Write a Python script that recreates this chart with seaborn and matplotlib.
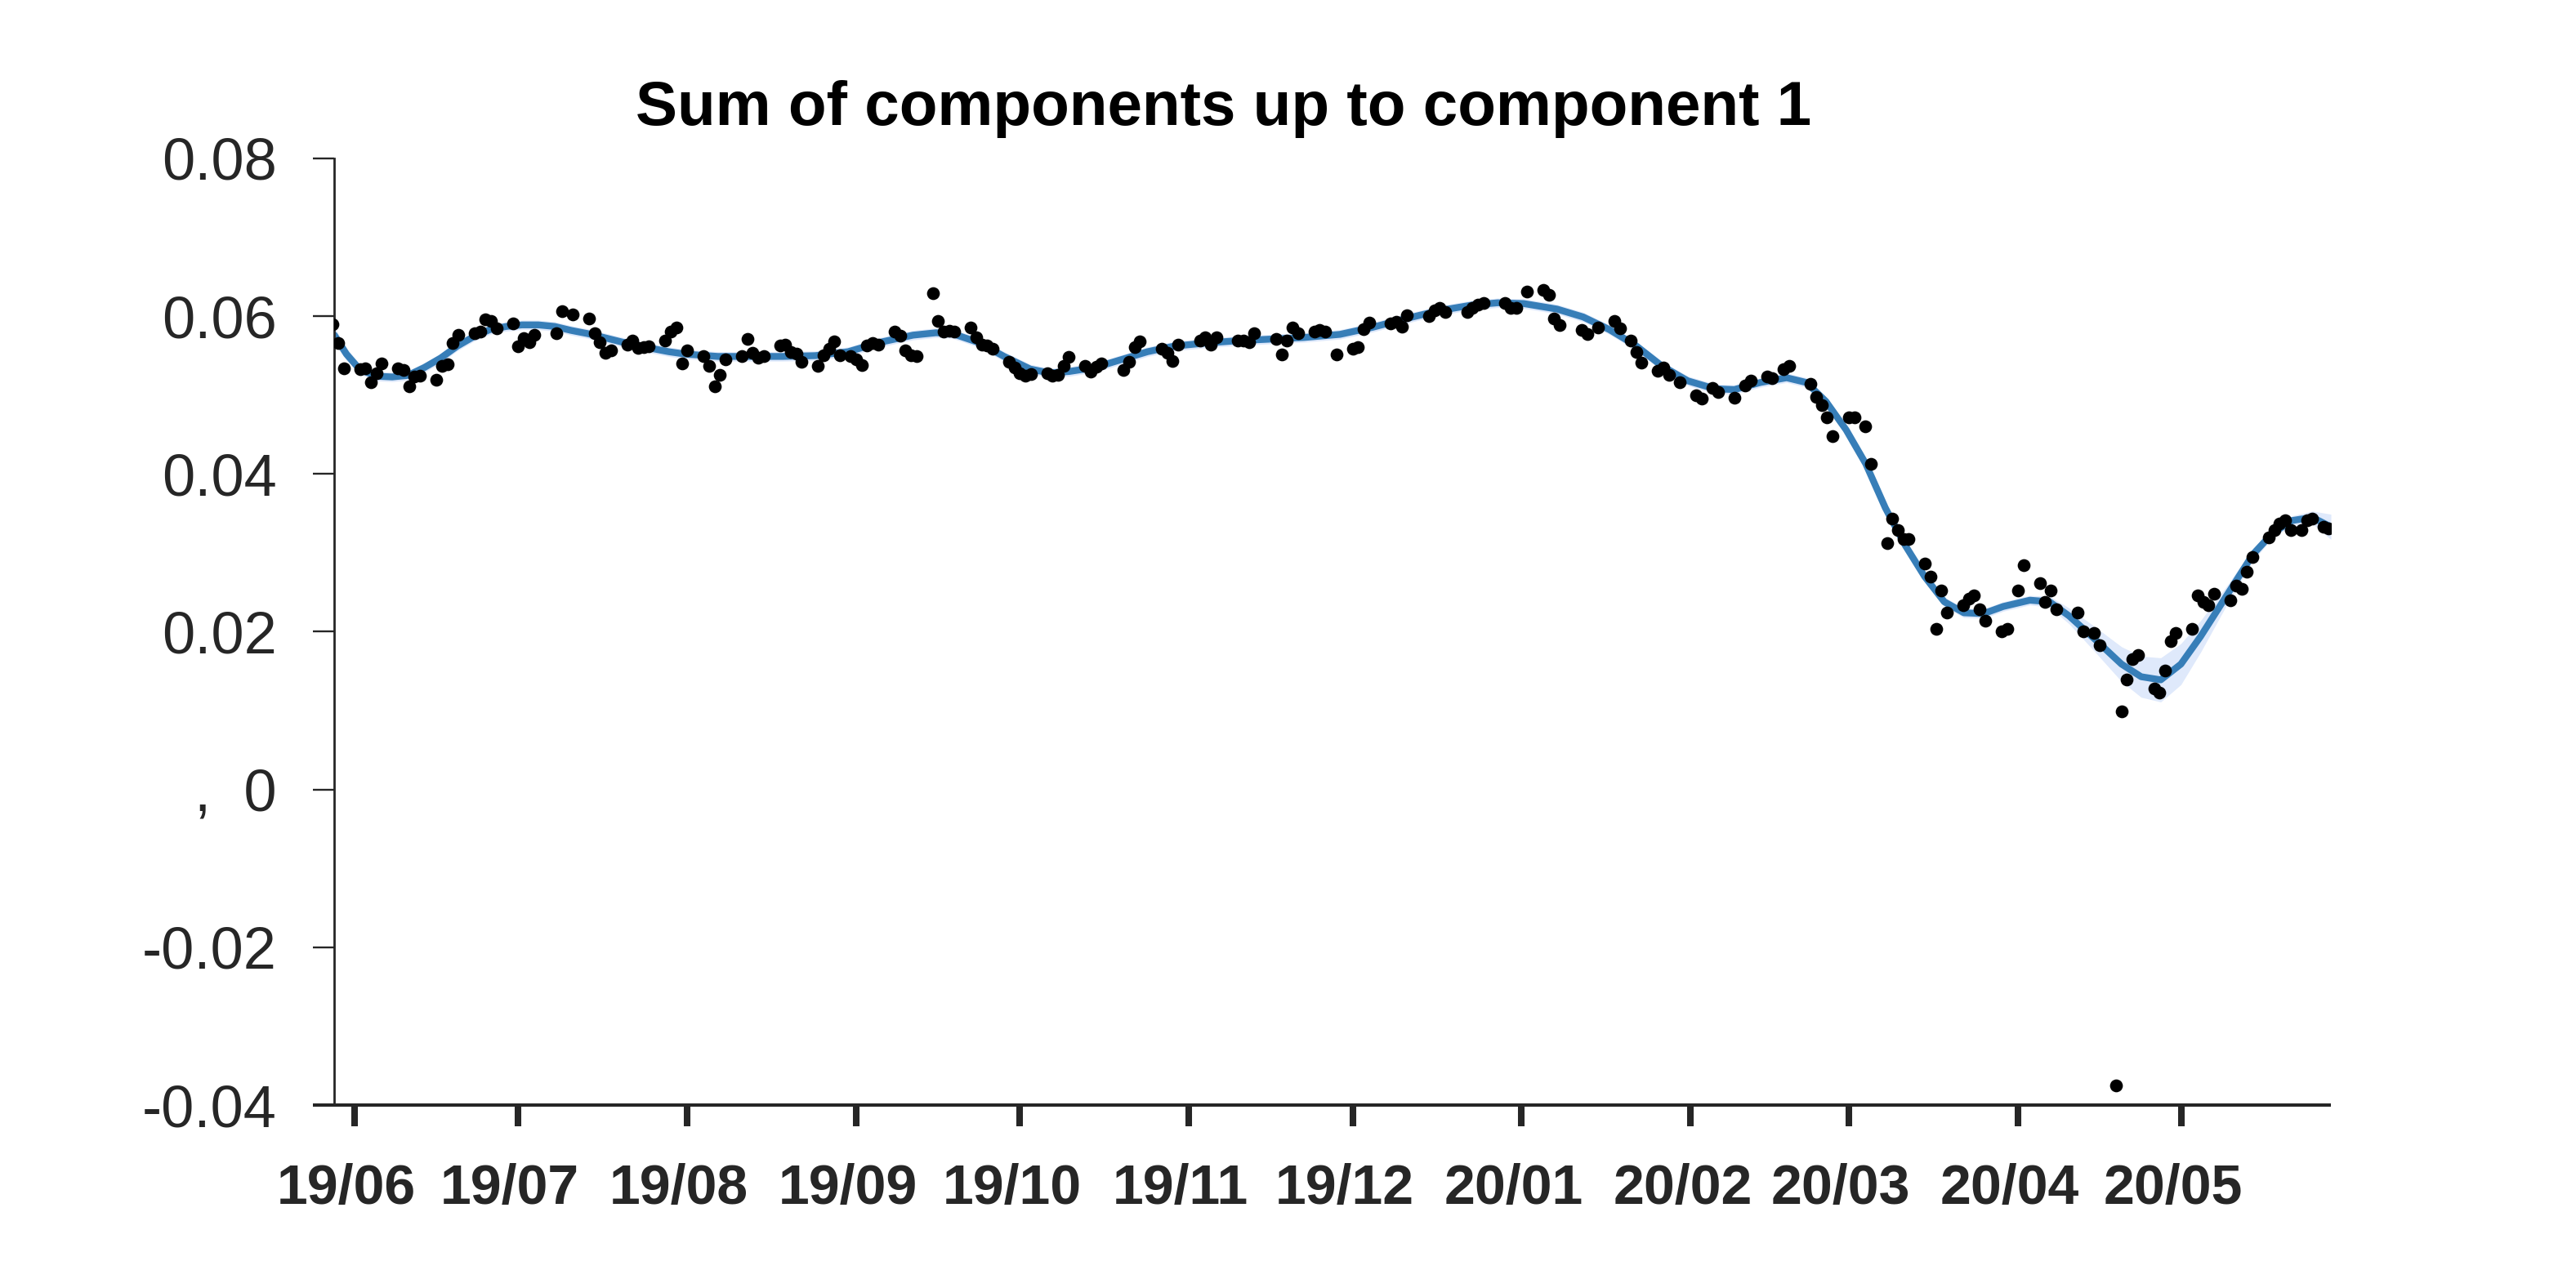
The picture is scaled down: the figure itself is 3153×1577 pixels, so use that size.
import numpy as np
import pandas as pd
import matplotlib
matplotlib.use('Agg')
import matplotlib.pyplot as plt
from matplotlib.lines import Line2D
from matplotlib.transforms import ScaledTranslation
import seaborn as sns

# ---------------- data ----------------
BASE_DATE = '2019-06-01'

# observed points: day offset from BASE_DATE and value
dot_days = [-4, -3, -2, 1, 2, 3, 4, 5, 8, 9, 10, 11, 12, 15, 16, 17, 18, 19,
            22, 23, 24, 25, 26, 29, 30, 31, 32, 33, 37, 38, 40, 43, 44, 45,
            46, 47, 50, 51, 52, 53, 54, 57, 58, 59, 60, 61, 64, 65, 66, 67,
            68, 71, 72, 73, 74, 75, 78, 79, 80, 81, 82, 85, 86, 87, 88, 89,
            91, 92, 93, 94, 95, 96, 99, 100, 101, 102, 103, 106, 107, 108,
            109, 110, 113, 114, 115, 116, 117, 120, 121, 122, 123, 124, 127,
            128, 129, 130, 131, 134, 135, 136, 137, 141, 142, 143, 144, 148,
            149, 150, 151, 155, 156, 157, 158, 162, 163, 164, 165, 169, 170,
            171, 172, 173, 176, 177, 178, 180, 183, 184, 185, 186, 190, 191,
            192, 193, 197, 198, 199, 200, 204, 205, 206, 207, 211, 212, 213,
            215, 218, 219, 220, 221, 225, 226, 228, 231, 232, 234, 235, 236,
            239, 240, 241, 243, 246, 247, 249, 250, 253, 255, 256, 259, 260,
            262, 263, 267, 268, 269, 270, 271, 274, 275, 277, 278, 281, 282,
            283, 284, 285, 288, 289, 290, 291, 292, 295, 296, 297, 298, 299,
            302, 303, 305, 306, 309, 310, 311, 312, 316, 317, 319, 320, 323,
            324, 325, 326, 327, 330, 331, 332, 333, 334, 337, 338, 339, 340,
            341, 344, 345, 346, 347, 348, 351, 352, 353, 354, 355, 357, 358,
            359, 361, 362]
dot_values = [0.0590, 0.0566, 0.0534, 0.0533, 0.0534, 0.0516, 0.0528, 0.0540,
              0.0534, 0.0532, 0.0511, 0.0524, 0.0525, 0.0519, 0.0537, 0.0539,
              0.0566, 0.0576, 0.0578, 0.0580, 0.0596, 0.0594, 0.0585, 0.0591,
              0.0562, 0.0572, 0.0567, 0.0576, 0.0578, 0.0606, 0.0602, 0.0597,
              0.0578, 0.0567, 0.0554, 0.0557, 0.0564, 0.0569, 0.0560, 0.0561,
              0.0562, 0.0569, 0.0581, 0.0586, 0.0540, 0.0557, 0.0549, 0.0537,
              0.0511, 0.0526, 0.0545, 0.0549, 0.0571, 0.0554, 0.0547, 0.0549,
              0.0563, 0.0564, 0.0555, 0.0553, 0.0542, 0.0537, 0.0550, 0.0559,
              0.0568, 0.0550, 0.0549, 0.0545, 0.0538, 0.0563, 0.0566, 0.0564,
              0.0580, 0.0575, 0.0557, 0.0550, 0.0549, 0.0629, 0.0594, 0.0581,
              0.0582, 0.0581, 0.0586, 0.0573, 0.0564, 0.0563, 0.0559, 0.0542,
              0.0535, 0.0528, 0.0525, 0.0527, 0.0528, 0.0525, 0.0526, 0.0537,
              0.0548, 0.0537, 0.0530, 0.0536, 0.0540, 0.0532, 0.0542, 0.0561,
              0.0568, 0.0559, 0.0554, 0.0543, 0.0564, 0.0569, 0.0573, 0.0564,
              0.0573, 0.0569, 0.0569, 0.0567, 0.0578, 0.0571, 0.0552, 0.0569,
              0.0586, 0.0578, 0.0581, 0.0583, 0.0581, 0.0551, 0.0559, 0.0561,
              0.0584, 0.0592, 0.0591, 0.0593, 0.0587, 0.0601, 0.0600, 0.0607,
              0.0611, 0.0605, 0.0605, 0.0611, 0.0615, 0.0617, 0.0617, 0.0611,
              0.0611, 0.0631, 0.0633, 0.0627, 0.0597, 0.0589, 0.0583, 0.0577,
              0.0586, 0.0594, 0.0585, 0.0569, 0.0555, 0.0541, 0.0531, 0.0535,
              0.0526, 0.0516, 0.0500, 0.0496, 0.0509, 0.0504, 0.0497, 0.0512,
              0.0518, 0.0524, 0.0522, 0.0533, 0.0537, 0.0514, 0.0498, 0.0487,
              0.0472, 0.0448, 0.0472, 0.0472, 0.0460, 0.0413, 0.0312, 0.0343,
              0.0329, 0.0317, 0.0317, 0.0286, 0.0270, 0.0204, 0.0252, 0.0224,
              0.0234, 0.0242, 0.0246, 0.0228, 0.0214, 0.0200, 0.0204, 0.0252,
              0.0284, 0.0262, 0.0238, 0.0252, 0.0228, 0.0224, 0.0200, 0.0198,
              0.0183, -0.0375, 0.0099, 0.0139, 0.0165, 0.0171, 0.0128, 0.0123,
              0.0151, 0.0188, 0.0198, 0.0204, 0.0246, 0.0238, 0.0234, 0.0248,
              0.0240, 0.0258, 0.0254, 0.0276, 0.0295, 0.0320, 0.0329, 0.0337,
              0.0341, 0.0329, 0.0329, 0.0341, 0.0343, 0.0333, 0.0331]

# fitted smooth component: day offset, value, half-width of its band
curve_days = [-3.7, -1.5, 0.9, 3.9, 6.9, 9.8, 12.8, 15.8, 18.8, 21.8, 24.8,
              27.8, 30.7, 33.7, 36.7, 39.7, 42.7, 45.7, 48.6, 51.6, 54.6,
              57.6, 60.6, 66.6, 72.5, 78.5, 84.5, 90.5, 96.4, 102.4, 106.6,
              109.6, 114.3, 119.1, 123.9, 127.5, 131.1, 135.8, 140.6, 145.4,
              150.2, 156.1, 162.1, 168.1, 174.1, 180.7, 186.7, 192.8, 198.8,
              204.8, 209.6, 214.4, 220.5, 225.3, 230.1, 234.9, 239.7, 244.5,
              249.4, 253.0, 257.8, 262.6, 266.2, 269.8, 273.5, 277.1, 280.7,
              284.3, 287.9, 291.5, 295.1, 298.7, 302.3, 307.2, 310.8, 314.4,
              319.2, 324.0, 327.6, 331.2, 334.9, 338.5, 343.3, 348.1, 351.7,
              355.3, 359.0, 362.4]
curve_values = [0.0576, 0.0552, 0.0533, 0.0524, 0.0523, 0.0525, 0.0535, 0.0547,
                0.0562, 0.0574, 0.0583, 0.0587, 0.0589, 0.0589, 0.0587, 0.0582,
                0.0578, 0.0573, 0.0568, 0.0563, 0.0559, 0.0555, 0.0552, 0.0549,
                0.0549, 0.0549, 0.0550, 0.0555, 0.0567, 0.0576, 0.0579, 0.0578,
                0.0567, 0.0549, 0.0533, 0.0528, 0.0530, 0.0535, 0.0545, 0.0555,
                0.0562, 0.0566, 0.0569, 0.0571, 0.0573, 0.0577, 0.0586, 0.0597,
                0.0607, 0.0614, 0.0617, 0.0616, 0.0609, 0.0599, 0.0583, 0.0563,
                0.0537, 0.0518, 0.0508, 0.0507, 0.0516, 0.0522, 0.0516, 0.0492,
                0.0456, 0.0413, 0.0357, 0.0310, 0.0270, 0.0238, 0.0224, 0.0223,
                0.0232, 0.0240, 0.0238, 0.0220, 0.0190, 0.0159, 0.0143, 0.0139,
                0.0159, 0.0194, 0.0246, 0.0298, 0.0325, 0.0341, 0.0345, 0.0333]
band_halfwidth = [0.0010, 0.0008] + [0.0006] * 72 + [0.0007, 0.0010, 0.0016,
                  0.0022, 0.0026, 0.0028, 0.0026, 0.0020, 0.0012, 0.0008,
                  0.0006, 0.0006, 0.0008, 0.0016]

y_ticks = [-0.04, -0.02, 0.0, 0.02, 0.04, 0.06, 0.08]
y_tick_labels = ['-0.04', '-0.02', ',  0', '0.02', '0.04', '0.06', '0.08']
month_ticks = pd.date_range('2019-06-01', '2020-05-01', freq='MS')
x_tick_labels = ['19/06', '19/07', '19/08', '19/09', '19/10', '19/11',
                 '19/12', '20/01', '20/02', '20/03', '20/04', '20/05']
title_text = 'Sum of components up to component 1'

# ---------------- plot ----------------
sns.set_style('ticks')
plt.rcParams['font.family'] = ['Liberation Sans', 'DejaVu Sans']

W, H, DPI = 3153, 1577, 200
fig = plt.figure(figsize=(W / DPI, H / DPI), dpi=DPI)
ax = fig.add_axes([409 / W, 1 - 1353 / H, (2853 - 409) / W, (1353 - 194) / H])

base = pd.Timestamp(BASE_DATE)
dots = pd.DataFrame({'date': base + pd.to_timedelta(dot_days, unit='D'),
                     'value': dot_values})
curve = pd.DataFrame({'date': base + pd.to_timedelta(curve_days, unit='D'),
                      'value': curve_values,
                      'hw': band_halfwidth})

ax.fill_between(curve['date'], curve['value'] - curve['hw'],
                curve['value'] + curve['hw'], color='#dfe9fb', lw=0, zorder=1)
sns.lineplot(data=curve, x='date', y='value', color='#377eb8', lw=3.0,
             ax=ax, zorder=2, sort=False, estimator=None)
sns.scatterplot(data=dots, x='date', y='value', color='black', s=32,
                linewidth=0, ax=ax, zorder=3)

ax.set_xlim(base + pd.Timedelta(days=-3.75), base + pd.Timedelta(days=362.4))
ax.set_ylim(-0.04, 0.08)

ax.set_xticks(month_ticks)
ax.set_xticklabels(x_tick_labels, fontsize=24.5, fontweight='bold')
ax.set_yticks(y_ticks)
ax.set_yticklabels(y_tick_labels, fontsize=26)
ax.set_xlabel('')
ax.set_ylabel('')

dark = '#262626'
ax.tick_params(axis='y', length=9.4, width=0.85, pad=16, color=dark,
               labelcolor=dark, direction='out')
ax.tick_params(axis='x', length=9.4, width=2.9, pad=16, color=dark,
               labelcolor=dark, direction='out')

shift = ScaledTranslation(-10 / DPI, 0, fig.dpi_scale_trans)
for lab in ax.get_xticklabels():
    lab.set_transform(lab.get_transform() + shift)

for s in ['top', 'right', 'bottom']:
    ax.spines[s].set_visible(False)
ax.spines['left'].set_linewidth(1.0)
ax.spines['left'].set_color(dark)
ax.add_line(Line2D([-26 / 2444, 1.0], [0, 0], transform=ax.transAxes,
                   lw=1.45, color=dark, clip_on=False, solid_capstyle='butt'))

fig.text(1498 / W, 1 - 153 / H, title_text, ha='center', va='baseline',
         fontsize=27.5, fontweight='bold', color='black')

fig.savefig('out.png', dpi=DPI)
